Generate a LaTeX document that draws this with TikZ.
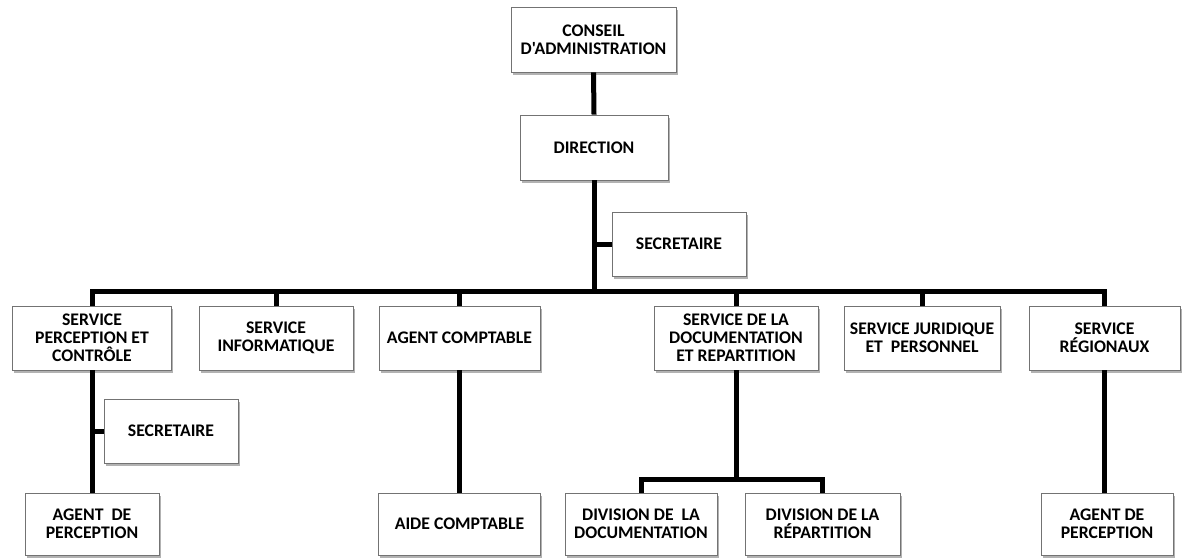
\documentclass[tikz,border=0pt]{standalone}
\usepackage{fontspec}
\setmainfont{Carlito}[Ligatures=TeXOff]
\usetikzlibrary{shadows}
\begin{document}
\begin{tikzpicture}[x=1pt,y=-1pt,
  box/.style={draw=black!55, line width=0.6pt, fill=white, rectangle, align=center,
    inner sep=2pt, font=\fontsize{17.7}{18}\selectfont\bfseries,
    drop shadow={shadow xshift=1.5pt, shadow yshift=-2.5pt, fill=black, opacity=0.3}},
  conn/.style={line width=5pt, draw=black}]
\useasboundingbox (0,0) rectangle (1182,558);
% level 0-1
\node[box, minimum width=165pt, minimum height=65pt] (ca) at (593.5,39.5) {CONSEIL\\D'ADMINISTRATION};
\node[box, minimum width=148pt, minimum height=65pt] (dir) at (594,147.5) {DIRECTION};
\node[box, minimum width=134pt, minimum height=64pt] (sec1) at (679,244) {SECRETAIRE};
% level 2
\node[box, minimum width=159pt, minimum height=64pt] (spc) at (92,338) {SERVICE\\PERCEPTION ET\\CONTRÔLE};
\node[box, minimum width=154pt, minimum height=64pt] (si) at (276,338) {SERVICE\\INFORMATIQUE};
\node[box, minimum width=161pt, minimum height=64pt] (ac) at (459.5,338) {AGENT COMPTABLE};
\node[box, minimum width=164pt, minimum height=64pt] (sdr) at (736,338) {SERVICE DE LA\\DOCUMENTATION\\ET REPARTITION};
\node[box, minimum width=156pt, minimum height=64pt] (sjp) at (922,338) {SERVICE JURIDIQUE\\ET\ \ PERSONNEL};
\node[box, minimum width=151pt, minimum height=64pt] (sr) at (1104.5,338) {SERVICE\\RÉGIONAUX};
% level 3
\node[box, minimum width=134pt, minimum height=64pt] (sec2) at (171,431) {SECRETAIRE};
\node[box, minimum width=134pt, minimum height=62pt] (ap1) at (92,524) {AGENT\ \ DE\\PERCEPTION};
\node[box, minimum width=162pt, minimum height=62pt] (aide) at (459.5,524) {AIDE COMPTABLE};
\node[box, minimum width=152pt, minimum height=62pt] (dd) at (641,524) {DIVISION DE\ \ LA\\DOCUMENTATION};
\node[box, minimum width=155pt, minimum height=62pt] (dr) at (822.5,524) {DIVISION DE LA\\RÉPARTITION};
\node[box, minimum width=132pt, minimum height=62pt] (ap2) at (1107,524) {AGENT DE\\PERCEPTION};
% connectors
\draw[conn] (ca.south) -- (dir.north);
\draw[conn] (spc.north) -- ++(0,-14) -| (sr.north);
\draw[conn] (dir.south) -- ([yshift=14pt]dir.south |- spc.north);
\draw[conn] (si.north) -- ([yshift=14pt]si.north);
\draw[conn] (ac.north) -- ([yshift=14pt]ac.north);
\draw[conn] (sdr.north) -- ([yshift=14pt]sdr.north);
\draw[conn] (sjp.north) -- ([yshift=14pt]sjp.north);
\draw[conn] (dir.south |- sec1.west) -- (sec1.west);
\draw[conn] (spc.south) -- (ap1.north);
\draw[conn] (spc.south |- sec2.west) -- (sec2.west);
\draw[conn] (ac.south) -- (aide.north);
\draw[conn] (sr.south) -- (sr.south |- ap2.north);
\draw[conn] (dd.north) -- ++(0,-13) -| (dr.north);
\draw[conn] (sdr.south) -- ([yshift=13pt]sdr.south |- dd.north);
\end{tikzpicture}
\end{document}
